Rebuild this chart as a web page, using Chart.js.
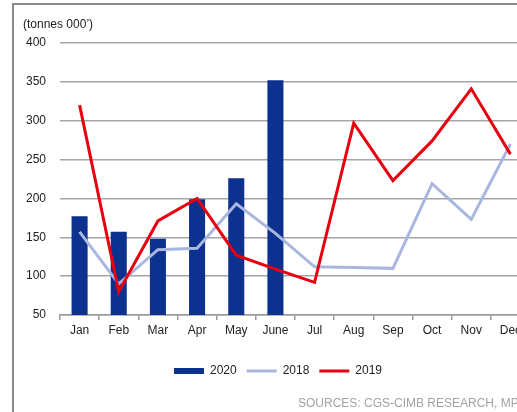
<!DOCTYPE html>
<html>
<head>
<meta charset="utf-8">
<script src="https://cdn.jsdelivr.net/npm/chart.js@4"></script>
<style>
  html, body { margin: 0; padding: 0; width: 517px; height: 412px; overflow: hidden; background: #fff; }
  #wrap { position: relative; width: 517px; height: 412px; overflow: hidden; }
  #frame { position: absolute; left: 12px; top: 3px; width: 700px; height: 600px;
    border-left: 2px solid #8c8c8c; border-top: 2px solid #8c8c8c; }
  canvas { position: absolute; left: 0; top: 0; }
  .txt { position: absolute; font-family: "Liberation Sans", Arial, sans-serif; font-size: 12px; white-space: nowrap; }
  #unit { left: 23px; top: 17px; color: #222; }
  #src { left: 298px; top: 396px; color: #a3a3a3; }
</style>
</head>
<body>
<div id="wrap">
  <div id="frame"></div>
  <canvas id="chart" width="540" height="412" style="width:540px;height:412px"></canvas>
  <div class="txt" id="unit">(tonnes 000’)</div>
  <div class="txt" id="src">SOURCES: CGS-CIMB RESEARCH, MPOB</div>
</div>
<script>
const months = ["Jan", "Feb", "Mar", "Apr", "May", "June", "Jul", "Aug", "Sep", "Oct", "Nov", "Dec"]
const values2020 = [177, 157, 148, 199, 226, 352, null, null, null, null, null, null]
const values2018 = [157, 90, 134, 136, 193, 155, 112, 111, 110, 219, 173, 270]
const values2019 = [320, 80, 171, 200, 127, 109, 92, 297, 223, 274, 341, 257]
const yTicks = [50, 100, 150, 200, 250, 300, 350, 400]

const font = { family: "'Liberation Sans', Arial, sans-serif", size: 12 }

const ctx = document.getElementById("chart").getContext("2d")

// chart area runs past the window on the right, like the cropped original
new Chart(ctx, {
  type: "bar",
  data: {
    labels: months,
    datasets: [
      {
        type: "bar",
        label: "2020",
        data: values2020,
        backgroundColor: "#0c318f",
        borderWidth: 0,
        barPercentage: 0.41,
        categoryPercentage: 1,
        pointStyle: "rect",
        order: 2
      },
      {
        type: "line",
        label: "2018",
        data: values2018,
        borderColor: "#a9b7e0",
        backgroundColor: "#a9b7e0",
        borderWidth: 3,
        tension: 0,
        pointRadius: 0,
        pointStyle: "line",
        order: 1
      },
      {
        type: "line",
        label: "2019",
        data: values2019,
        borderColor: "#e8000f",
        backgroundColor: "#e8000f",
        borderWidth: 3,
        tension: 0,
        pointRadius: 0,
        pointStyle: "line",
        order: 0
      }
    ]
  },
  options: {
    responsive: false,
    animation: false,
    devicePixelRatio: 1,
    layout: { padding: { top: 43, right: 10, bottom: 25, left: 26 } },
    plugins: {
      title: { display: false },
      tooltip: { enabled: false },
      legend: {
        position: "bottom",
        labels: {
          font: font,
          color: "#222",
          usePointStyle: true,
          pointStyleWidth: 30,
          boxHeight: 6,
          padding: 10,
          sort: (a, b) => a.datasetIndex - b.datasetIndex
        }
      }
    },
    scales: {
      x: {
        offset: true,
        grid: {
          display: true,
          drawOnChartArea: false,
          drawTicks: true,
          tickLength: 5,
          offset: true,
          color: "#9a9a9a",
          lineWidth: 1.5
        },
        border: { display: true, color: "#9a9a9a", width: 1.5 },
        ticks: { font: font, color: "#222", padding: 3, maxRotation: 0, autoSkip: false },
        afterFit: (scale) => { scale.height = 40 }
      },
      y: {
        min: 50,
        max: 400,
        afterBuildTicks: (scale) => { scale.ticks = yTicks.map(v => ({ value: v })) },
        grid: { color: "#a5a5a5", lineWidth: 1.5, drawTicks: false },
        border: { display: false },
        ticks: { font: font, color: "#222", padding: 14 },
        afterFit: (scale) => { scale.width = 34 }
      }
    }
  }
})
</script>
</body>
</html>
